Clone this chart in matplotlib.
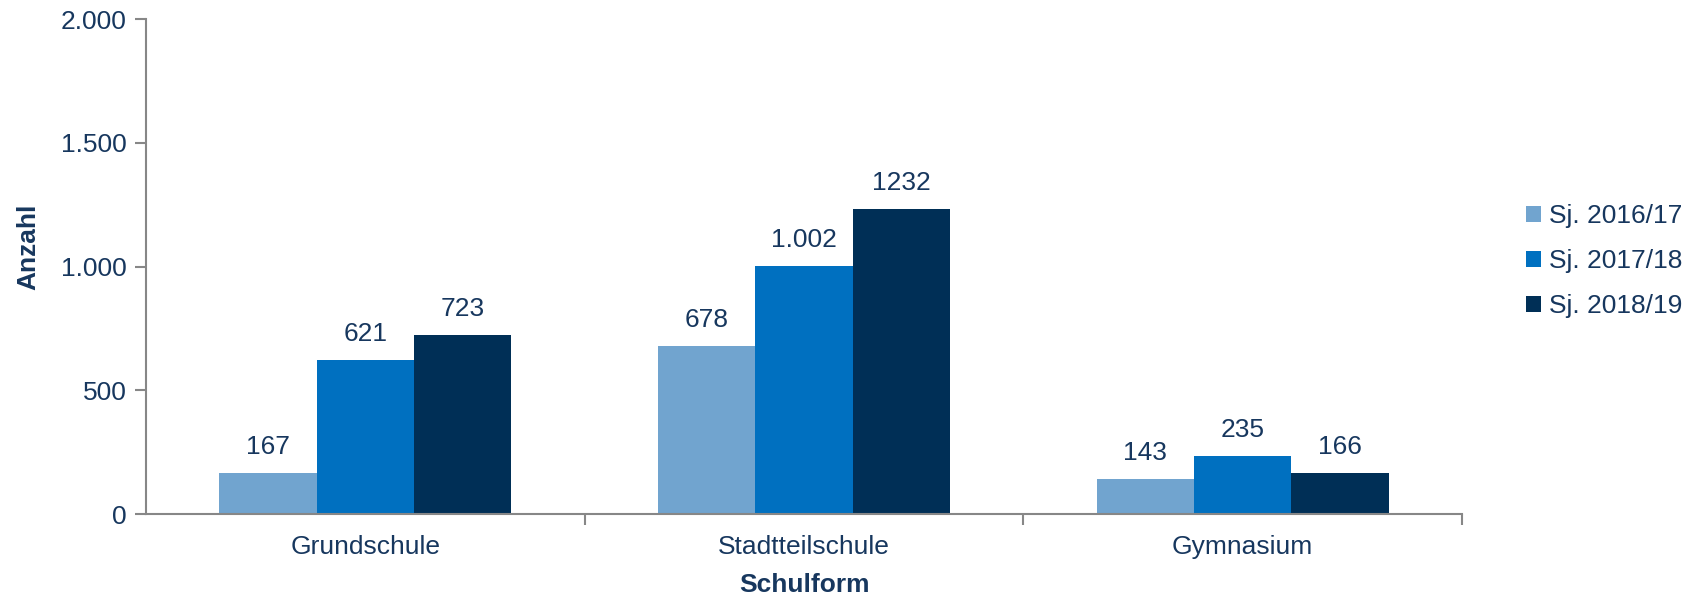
import matplotlib.pyplot as plt
import numpy as np

schulformen = ['Grundschule', 'Stadtteilschule', 'Gymnasium']
jahre = ['Sj. 2016/17', 'Sj. 2017/18', 'Sj. 2018/19']
werte = {
    'Sj. 2016/17': [167, 678, 143],
    'Sj. 2017/18': [621, 1002, 235],
    'Sj. 2018/19': [723, 1232, 166],
}
labels = {
    'Sj. 2016/17': ['167', '678', '143'],
    'Sj. 2017/18': ['621', '1.002', '235'],
    'Sj. 2018/19': ['723', '1232', '166'],
}
y_ticks = [0, 500, 1000, 1500, 2000]
y_ticklabels = ['0', '500', '1.000', '1.500', '2.000']

farben = ['#71A4CF', '#0070C0', '#002F56']
textfarbe = '#17375E'
achsenfarbe = '#878787'

plt.rcParams['font.family'] = ['Liberation Sans', 'DejaVu Sans']

fig = plt.figure(figsize=(16.98, 5.97), dpi=100)
ax = fig.add_axes([0.086, 0.139, 0.775, 0.829])

x = np.arange(len(schulformen))
breite = 0.222
for i, jahr in enumerate(jahre):
    pos = x + (i - 1) * breite
    bars = ax.bar(pos, werte[jahr], breite, color=farben[i], label=jahr)
    for b, txt in zip(bars, labels[jahr]):
        ax.annotate(txt, (b.get_x() + b.get_width() / 2, b.get_height()),
                    xytext=(0, 10), textcoords='offset points',
                    ha='center', va='bottom', fontsize=19, color=textfarbe)

ax.set_xlim(-0.5, 2.5)
ax.set_ylim(0, 2000)
ax.set_yticks(y_ticks)
ax.set_yticklabels(y_ticklabels)
ax.set_xticks(x)
ax.set_xticklabels(schulformen)
ax.set_xticks([0.5, 1.5, 2.5], minor=True)
ax.tick_params(axis='x', which='major', length=0, pad=15, labelsize=19, labelcolor=textfarbe)
ax.tick_params(axis='x', which='minor', length=8, width=1.5, color=achsenfarbe)
ax.tick_params(axis='y', length=8, width=1.5, color=achsenfarbe, pad=6,
               labelsize=19, labelcolor=textfarbe)

for s in ['top', 'right']:
    ax.spines[s].set_visible(False)
for s in ['left', 'bottom']:
    ax.spines[s].set_color(achsenfarbe)
    ax.spines[s].set_linewidth(1.5)

ax.set_xlabel('Schulform', fontsize=19, fontweight='bold', color=textfarbe, labelpad=10)
ax.set_ylabel('Anzahl', fontsize=19, fontweight='bold', color=textfarbe)
ax.yaxis.set_label_coords(-0.08, 0.54)

leg = ax.legend(loc='center left', bbox_to_anchor=(1.049, 0.511), frameon=False,
                fontsize=19, handlelength=0.55, handleheight=0.55, handletextpad=0.3,
                labelspacing=0.8, borderaxespad=0, borderpad=0)
for t in leg.get_texts():
    t.set_color(textfarbe)

fig.savefig('out.png', dpi=100)
